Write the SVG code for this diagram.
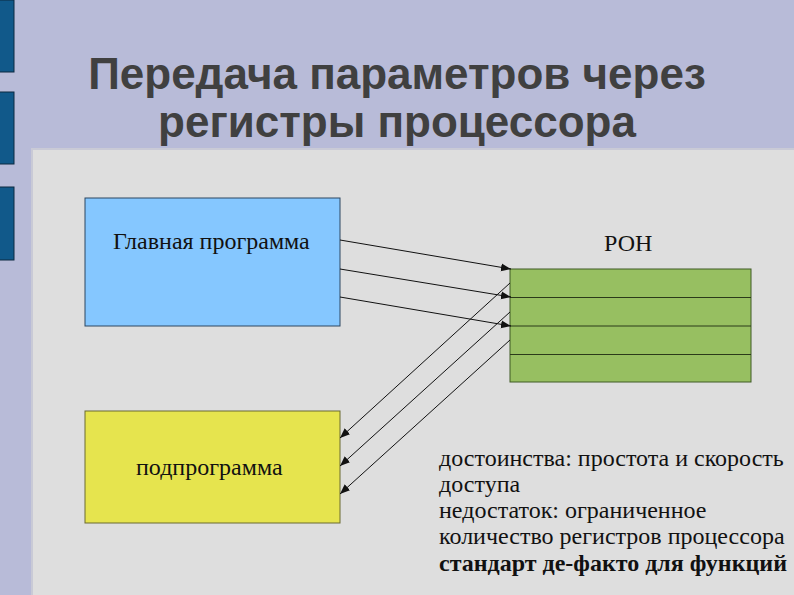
<svg xmlns="http://www.w3.org/2000/svg" width="794" height="595" viewBox="0 0 794 595">
<style>
.bar{fill:#11598a;stroke:#0d2a40;stroke-width:1}
.title{font-family:"Liberation Sans",Arial,sans-serif;font-weight:bold;font-size:44px;fill:#404040;text-anchor:middle}
.lbl{font-family:"Liberation Serif","Times New Roman",serif;font-size:24px;fill:#111}
.ln{stroke:#111;stroke-width:1;fill:none;marker-end:url(#ah)}
.reg{stroke:#2b3a1a;stroke-width:1}
</style>
<defs>
<marker id="ah" viewBox="0 0 10 10" refX="10" refY="5" markerWidth="10" markerHeight="10" markerUnits="userSpaceOnUse" orient="auto">
<path d="M0,1 L10,5 L0,9 Z" fill="#111"/>
</marker>
</defs>
<rect width="794" height="595" fill="#b8bbd8"/>
<rect class="bar" x="-1" y="0" width="15" height="72"/>
<rect class="bar" x="-1" y="92" width="15" height="72"/>
<rect class="bar" x="-1" y="187" width="15" height="73"/>
<rect x="31" y="148" width="764" height="448" fill="#c9cad6"/>
<rect x="33" y="150" width="762" height="446" fill="#dedede"/>
<text class="title" x="397" y="89">Передача параметров через</text>
<text class="title" x="397" y="137">регистры процессора</text>
<g id="main">
<rect x="85" y="198" width="255" height="128" fill="#85c7ff" stroke="#2c4660" stroke-width="1"/>
<text class="lbl" x="113" y="249">Главная программа</text>
</g>
<g id="sub">
<rect x="85" y="411" width="255" height="112" fill="#e6e44e" stroke="#6a6a30" stroke-width="1"/>
<text class="lbl" x="136" y="475">подпрограмма</text>
</g>
<g id="ron">
<text class="lbl" x="604" y="251">РОН</text>
<rect x="510" y="269" width="241" height="113" fill="#97bf61" stroke="#3f5a25" stroke-width="1"/>
<line class="reg" x1="510" y1="297.5" x2="751" y2="297.5"/>
<line class="reg" x1="510" y1="326" x2="751" y2="326"/>
<line class="reg" x1="510" y1="354.5" x2="751" y2="354.5"/>
</g>
<g id="connectors">
<line class="ln" x1="340" y1="240" x2="511" y2="269"/>
<line class="ln" x1="340" y1="269" x2="511" y2="297"/>
<line class="ln" x1="340" y1="297" x2="511" y2="326"/>
<line class="ln" x1="510" y1="283" x2="340" y2="438"/>
<line class="ln" x1="510" y1="312" x2="340" y2="466"/>
<line class="ln" x1="510" y1="340" x2="340" y2="494"/>
</g>
<g id="notes">
<text class="lbl" x="439" y="466">достоинства: простота и скорость</text>
<text class="lbl" x="439" y="492">доступа</text>
<text class="lbl" x="439" y="518">недостаток: ограниченное</text>
<text class="lbl" x="439" y="544">количество регистров процессора</text>
<text class="lbl" x="439" y="571" font-weight="bold">стандарт де-факто для функций</text>
</g>
</svg>
